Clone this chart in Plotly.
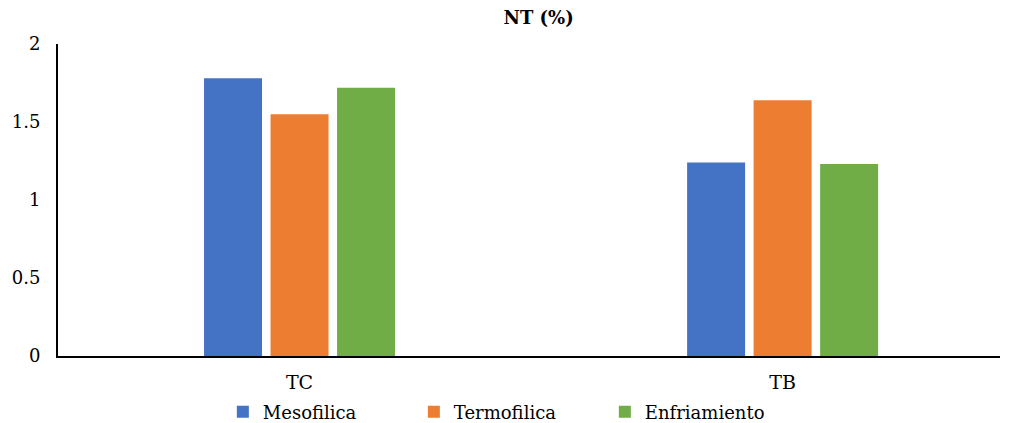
import plotly.graph_objects as go

categories = ["TC", "TB"]
series_names = ["Mesofilica", "Termofilica", "Enfriamiento"]
mesofilica = [1.78, 1.24]
termofilica = [1.55, 1.64]
enfriamiento = [1.72, 1.23]
colors = ["#4472C4", "#ED7D31", "#70AD47"]
y_ticks = [0, 0.5, 1, 1.5, 2]
y_tick_labels = ["0", "0.5", "1", "1.5", "2"]

fig = go.Figure()
for name, vals, col in zip(series_names, [mesofilica, termofilica, enfriamiento], colors):
    fig.add_trace(go.Bar(name=name, x=categories, y=vals, marker=dict(color=col, line=dict(width=0))))

font_family = "DejaVu Serif"
fig.update_layout(
    width=1002, height=415,
    margin=dict(l=50, r=10, t=36, b=67, autoexpand=False),
    paper_bgcolor="white", plot_bgcolor="white",
    barmode="group", bargap=0.587, bargroupgap=0.128,
    title=dict(text="<b>NT (%)</b>", x=0.5295, xanchor="center", y=0.976, yanchor="middle",
               font=dict(family=font_family, size=18, color="black")),
    font=dict(family=font_family, size=18, color="black"),
    showlegend=True,
    legend=dict(orientation="h", x=0.175, xanchor="left", y=-0.18, yanchor="middle",
                entrywidth=146, entrywidthmode="pixels",
                font=dict(family=font_family, size=18, color="black"),
                tracegroupgap=0),
)
fig.update_xaxes(type="category", range=[-0.5, 1.45], showline=True, linecolor="black", linewidth=2,
                 showgrid=False, ticks="", automargin=False, ticklabelstandoff=8,
                 tickfont=dict(family=font_family, size=19))
fig.update_yaxes(range=[0, 2], tickvals=y_ticks, ticktext=y_tick_labels, showline=True,
                 linecolor="black", linewidth=2, showgrid=False, zeroline=False, ticks="",
                 automargin=False, ticklabelstandoff=12, tickfont=dict(family=font_family, size=18))

fig.write_html("out.html")
